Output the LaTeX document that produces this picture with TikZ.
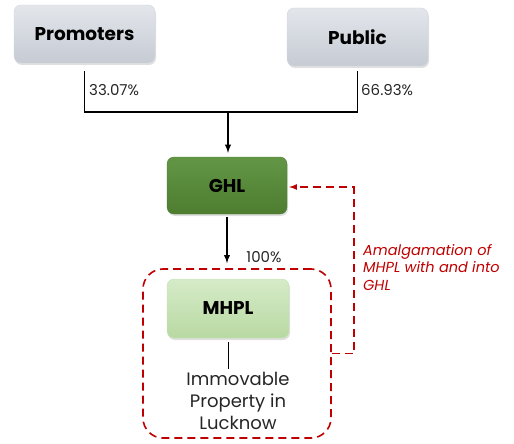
\documentclass[tikz,border=0pt]{standalone}
\usepackage{fontspec}
\setmainfont{Poppins}
\usetikzlibrary{shadows}
\definecolor{redline}{HTML}{C00000}
\definecolor{txtgray}{HTML}{262626}
\definecolor{graytop}{HTML}{E3E6EB}
\definecolor{graybot}{HTML}{C6CBD4}
\definecolor{ghltop}{HTML}{629645}
\definecolor{ghlbot}{HTML}{4E7D30}
\definecolor{subtop}{HTML}{D6EBC8}
\definecolor{subbot}{HTML}{B8D9A2}
\tikzset{
  box/.style={rounded corners=7pt, minimum width=141pt, minimum height=58pt,
    font=\bfseries\fontsize{18.5}{22}\selectfont,
    drop shadow={opacity=0.25, shadow xshift=1pt, shadow yshift=-2pt}},
  graybox/.style={box, top color=graytop, bottom color=graybot, draw=graybot!80},
  ghlbox/.style={box, top color=ghltop, bottom color=ghlbot,
    draw=ghlbot, minimum width=120pt, minimum height=57pt},
  subbox/.style={box, top color=subtop, bottom color=subbot,
    draw=subbot!80, minimum width=122pt, minimum height=59pt},
  pct/.style={text=txtgray, font=\fontsize{15}{18}\selectfont, inner sep=0pt},
  link/.style={line width=1.8pt},
  amal/.style={redline, line width=1.6pt, dash pattern=on 8pt off 5pt},
}
\begin{document}
\begin{tikzpicture}[x=1pt, y=-1pt]
    \useasboundingbox (0, 0) rectangle (514, 444);
    \node[graybox] (prom) at (84.5, 34) {Promoters};
    \node[graybox] (pub) at (357.5, 37) {Public};
    \node[ghlbox] (ghl) at (227, 185.5) {GHL};
    \node[amal, draw, rounded corners=20pt, minimum width=188pt,
      minimum height=169pt] (grp) at (237, 353.5) {};
    \node[subbox] (mhpl) at (228, 308.5) {MHPL};
    \node[text=txtgray, align=center, inner sep=0pt,
      font=\fontsize{18}{22}\selectfont] (prop) at (238, 401)
      {Immovable\\Property in\\Lucknow};
    \node[pct, anchor=west] (p33) at (89, 90) {33.07\%};
    \node[pct, anchor=west] (p66) at (361, 90) {66.93\%};
    \node[pct] (p100) at (264, 257) {100\%};
    \node[redline, align=left, anchor=north west, inner sep=0pt,
      font=\itshape\fontsize{14.5}{17.5}\selectfont] (amtext) at (363, 244)
      {Amalgamation of\\MHPL with and into\\GHL};
    \coordinate (join) at (228, 112);
    \draw[link] ([yshift=-8pt]prom.south) |- (join) -| ([yshift=-5pt]pub.south);
    \draw[link, -latex] (join) -- ([yshift=4pt]ghl.north -| join);
    \draw[link, -latex] ([yshift=-3pt]ghl.south) -- ([yshift=5pt]ghl.south |- grp.north);
    \draw[thick] ([yshift=-4pt]mhpl.south) -- ([yshift=3pt]mhpl.south |- prop.north);
    \draw[amal, -latex] (grp.east) -- ++(22, 0) |- ([xshift=2pt, yshift=-1.5pt]ghl.east);
  \end{tikzpicture}
\end{document}
